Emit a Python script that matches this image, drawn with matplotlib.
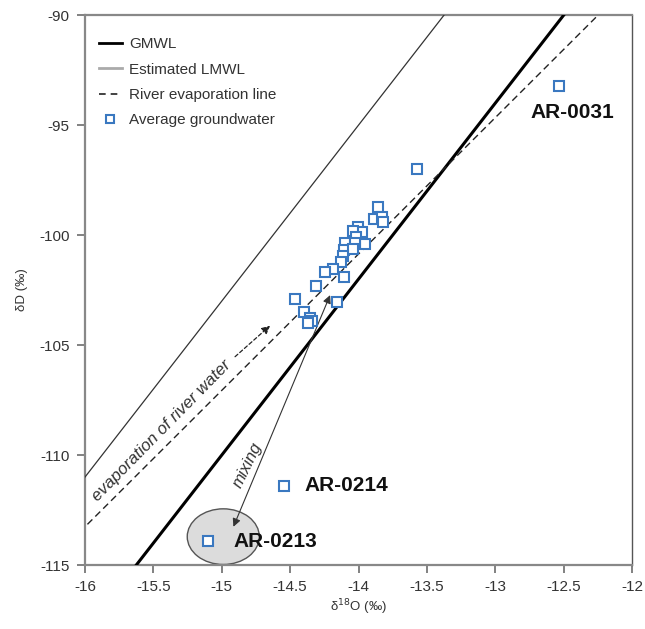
import matplotlib
matplotlib.use("Agg")
import matplotlib.pyplot as plt
import numpy as np
from matplotlib.patches import Ellipse
from matplotlib.lines import Line2D

plt.rcParams['font.family'] = ['Liberation Sans', 'DejaVu Sans']

# Average groundwater isotopes (δ18O, δD in ‰)
d18o = [-12.534, -13.572, -13.86, -13.885, -13.825, -13.82, -14.006, -13.977,
        -14.038, -14.02, -13.952, -14.099, -14.026, -14.104, -14.038, -14.111,
        -14.13, -14.184, -14.245, -14.106, -14.313, -14.467, -14.155, -14.396,
        -14.355, -14.342, -14.371, -14.543, -15.098]
dD = [-93.23, -97.0, -98.74, -99.25, -99.2, -99.4, -99.65, -99.85,
      -99.82, -100.08, -100.41, -100.35, -100.38, -100.68, -100.65, -100.95,
      -101.21, -101.56, -101.67, -101.9, -102.3, -102.92, -103.06, -103.49,
      -103.79, -103.91, -103.99, -111.39, -113.9]

# Named samples
sample_names = ['AR-0031', 'AR-0214', 'AR-0213']
sample_x = [-12.534, -14.543, -15.098]
sample_y = [-93.23, -111.39, -113.9]

# Reference lines: δD = slope * δ18O + intercept
gmwl = (8.0, 10.0)
lmwl = (8.0, 17.0)
river_evap = (6.2, -14.06)

xticks = [-16, -15.5, -15, -14.5, -14, -13.5, -13, -12.5, -12]
xtick_labels = ['-16', '-15.5', '-15', '-14.5', '-14', '-13.5', '-13', '-12.5', '-12']
yticks = [-90, -95, -100, -105, -110, -115]
ytick_labels = ['-90', '-95', '-100', '-105', '-110', '-115']

fig = plt.figure(figsize=(6.45, 6.29), dpi=100)
ax = fig.add_axes([0.1318, 0.1017, 0.8482, 0.8743])
ax.set_xlim(-16, -12)
ax.set_ylim(-115, -90)

xs = np.array([-16.5, -11.5])
ax.plot(xs, gmwl[0] * xs + gmwl[1], color='black', lw=2.2, zorder=3)
ax.plot(xs, lmwl[0] * xs + lmwl[1], color='#333333', lw=0.9, zorder=3)
ax.plot(xs, river_evap[0] * xs + river_evap[1], color='#222222', lw=1.0,
        dashes=(5, 3), zorder=3)

# Mixing end-member field around AR-0213
ax.add_patch(Ellipse((-14.989, -113.71), 0.527, 2.53, facecolor='#dcdcdc',
                     edgecolor='#555555', lw=1.0, zorder=2, clip_on=False))

# Mixing arrow (double headed)
ax.annotate('', xy=(-14.915, -113.26), xytext=(-14.208, -102.73),
            arrowprops=dict(arrowstyle='<|-|>', color='#333333', lw=0.8,
                            mutation_scale=12, shrinkA=0, shrinkB=0), zorder=4)
ax.text(-14.81, -110.45, 'mixing', rotation=64, style='italic', fontsize=12,
        color='#333333', ha='center', va='center')

# Evaporation direction arrow
ax.annotate('', xy=(-14.647, -104.12), xytext=(-14.903, -105.53),
            arrowprops=dict(arrowstyle='-|>', color='#222222', lw=0.9,
                            linestyle=(0, (3, 2)), mutation_scale=12,
                            shrinkA=0, shrinkB=0), zorder=4)
ax.text(-15.44, -108.9, 'evaporation of river water', rotation=45.5,
        style='italic', fontsize=12.2, color='#333333', ha='center', va='center')

ax.plot(d18o, dD, linestyle='none', marker='s', markersize=6.5,
        markerfacecolor='white', markeredgecolor='#3a78c0', markeredgewidth=1.5,
        zorder=5)

offsets = {'AR-0031': (-0.21, -1.18), 'AR-0214': (0.15, 0.0), 'AR-0213': (0.18, -0.05)}
for name, x, y in zip(sample_names, sample_x, sample_y):
    dx, dy = offsets[name]
    ax.text(x + dx, y + dy, name, fontsize=15, fontweight='bold', color='#111111',
            ha='left', va='center', zorder=6)

ax.set_xticks(xticks)
ax.set_xticklabels(xtick_labels)
ax.set_yticks(yticks)
ax.set_yticklabels(ytick_labels)
ax.tick_params(direction='out', length=6, width=1.3, color='#777777',
               labelsize=11, labelcolor='#333333', pad=5)

for side in ['left', 'bottom', 'top']:
    ax.spines[side].set_color('#888888')
    ax.spines[side].set_linewidth(1.6)
ax.spines['right'].set_color('#555555')
ax.spines['right'].set_linewidth(1.0)

ax.set_xlabel('δ$^{18}$O (‰)', fontsize=9.5, color='#333333', labelpad=2)
ax.set_ylabel('δD (‰)', fontsize=9.5, color='#333333', labelpad=8)

handles = [
    Line2D([], [], color='black', lw=2.0),
    Line2D([], [], color='#aaaaaa', lw=2.0),
    Line2D([], [], color='#222222', lw=1.2, dashes=(4, 3)),
    Line2D([], [], linestyle='none', marker='s', markersize=6,
           markerfacecolor='white', markeredgecolor='#3a78c0', markeredgewidth=1.5),
]
labels = ['GMWL', 'Estimated LMWL', 'River evaporation line', 'Average groundwater']
leg = ax.legend(handles, labels, loc='upper left', bbox_to_anchor=(0.0, 0.985),
                frameon=False, fontsize=11, handlelength=1.5, handletextpad=0.5,
                labelspacing=0.75, borderaxespad=0.5)
for t in leg.get_texts():
    t.set_color('#333333')

fig.savefig('out.png', dpi=100)
